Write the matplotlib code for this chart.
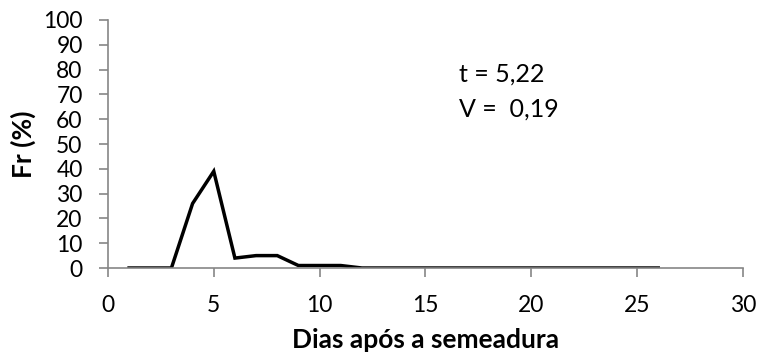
import matplotlib.pyplot as plt

# Dias após a semeadura vs frequência relativa (%)
dias = list(range(1, 27))
fr = [0, 0, 0, 26, 39, 4, 5, 5, 1, 1, 1, 0, 0, 0, 0, 0, 0, 0, 0, 0, 0, 0, 0, 0, 0, 0]

x_ticks = [0, 5, 10, 15, 20, 25, 30]
y_ticks = list(range(0, 101, 10))

plt.rcParams['font.family'] = ['Lato', 'DejaVu Sans']

fig = plt.figure(figsize=(7.6, 3.61), dpi=100)
ax = fig.add_axes([0.142, 0.2576, 0.8355, 0.687])

ax.plot(dias, fr, color='black', linewidth=2.5, solid_joinstyle='miter')

ax.set_xlim(0, 30)
ax.set_ylim(0, 100)
ax.set_xticks(x_ticks)
ax.set_yticks(y_ticks)

for s in ['top', 'right']:
    ax.spines[s].set_visible(False)
for s in ['left', 'bottom']:
    ax.spines[s].set_color('#868686')
    ax.spines[s].set_linewidth(1.2)

ax.tick_params(axis='both', colors='#868686', labelcolor='black', labelsize=16.5,
               length=6.2, width=1.2)
ax.tick_params(axis='x', pad=13)
ax.tick_params(axis='y', pad=12)

ax.set_xlabel('Dias após a semeadura', fontsize=19, fontweight='bold')
ax.xaxis.label.set_va('center')
ax.xaxis.set_label_coords(0.5, -0.292)
ax.set_ylabel('Fr (%)', fontsize=19, fontweight='bold')
ax.yaxis.label.set_va('center')
ax.yaxis.set_label_coords(-0.133, 0.5)

ax.text(16.6, 75.1, 't = 5,22', fontsize=18, va='baseline')
ax.text(16.6, 60.9, 'V =  0,19', fontsize=18, va='baseline')

fig.savefig('out.png', dpi=100)
